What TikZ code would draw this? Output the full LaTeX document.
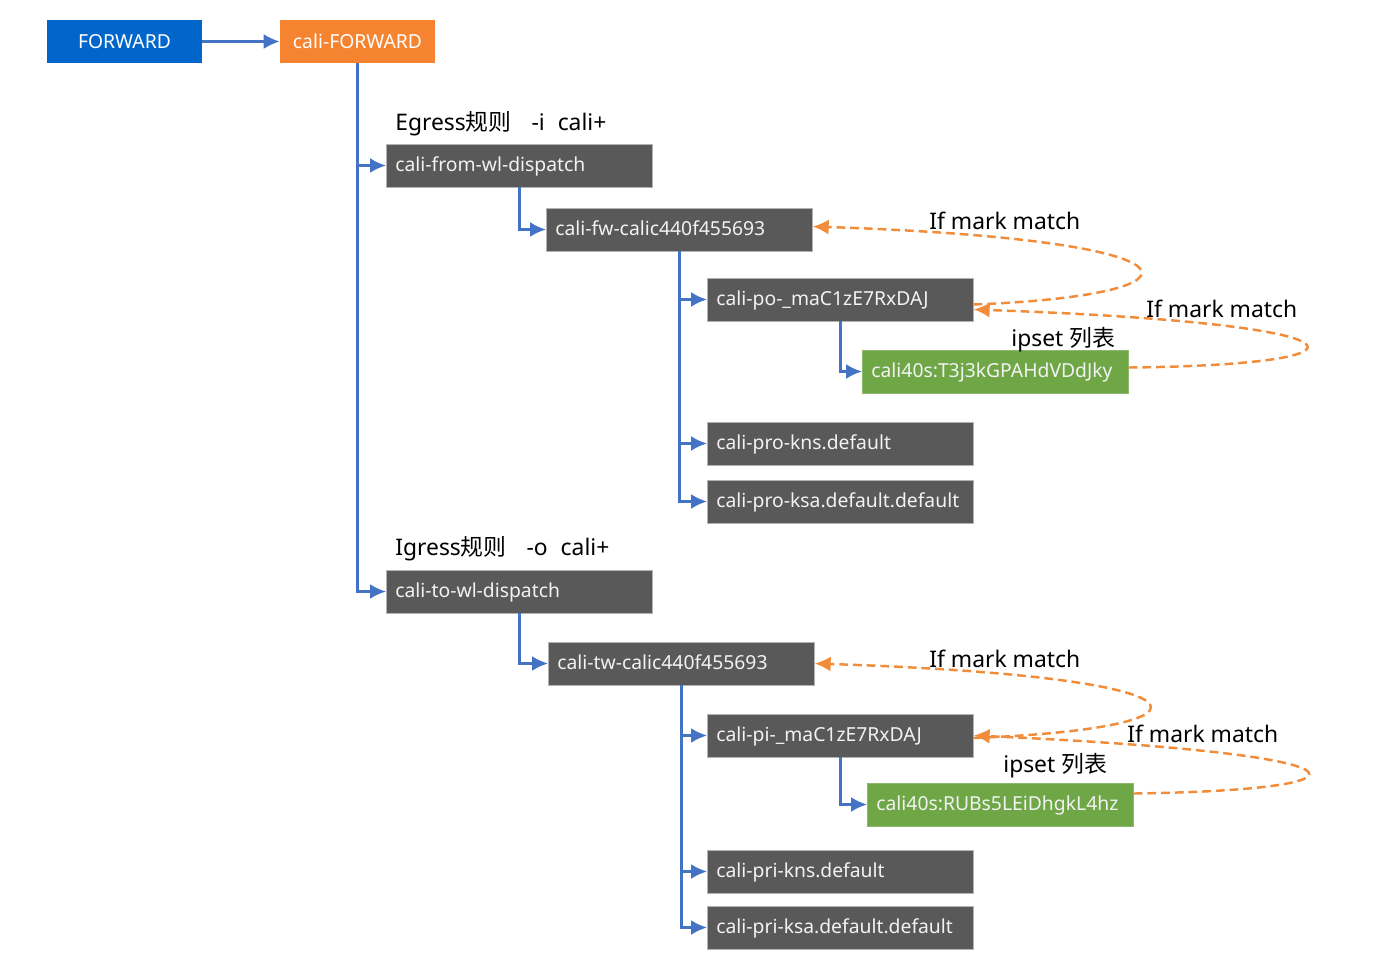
\documentclass[tikz,border=0pt]{standalone}
\usepackage{fontspec}
\setmainfont{Noto Sans}
\newfontfamily\cjk{Noto Sans CJK SC}
\usetikzlibrary{arrows.meta}

\definecolor{fwdblue}{HTML}{0066CC}
\definecolor{caliorange}{HTML}{F5832F}
\definecolor{chaingray}{HTML}{595959}
\definecolor{ipsetgreen}{HTML}{6FA747}
\definecolor{linkblue}{HTML}{4472C4}
\definecolor{markorange}{HTML}{F08C3A}

\begin{document}
\begin{tikzpicture}[x=0.02cm, y=-0.02cm,
		topbox/.style={minimum width=3.1cm, minimum height=0.86cm, inner sep=0pt, text=white, font=\fontsize{11}{13}\selectfont},
		chain/.style={anchor=west, fill=chaingray, draw=gray!60, thin, text width=4.96cm, inner xsep=0.18cm, inner ysep=0pt, minimum height=0.86cm, text height=0.9em, text depth=0.2em, align=left, text=white!95!black, font=\fontsize{11}{13}\selectfont},
		ipset/.style={chain, fill=ipsetgreen, draw=ipsetgreen!80!white},
		link/.style={linkblue, line width=1.4pt, -{Latex[length=0.32cm, width=0.3cm]}},
		markloop/.style={markorange, line width=1.4pt, dash pattern=on 5pt off 2.8pt, -{Latex[length=0.32cm, width=0.3cm]}},
		note/.style={anchor=base west, inner sep=0pt, font=\fontsize{13}{15}\selectfont}]
				\useasboundingbox (0,0) rectangle (1381,970);
				\fill[white] (0,0) rectangle (1381,970);
				% entry
				\node[topbox, fill=fwdblue] (fwd) at (124.5,41.5) {FORWARD};
				\node[topbox, fill=caliorange] (cfwd) at (357.5,41.5) {cali-FORWARD};
				% egress
				\node[note] (egr) at (395,130) {Egress{\cjk 规则}\hspace{0.4cm}-i\hspace{0.26cm}cali+};
				\node[chain] (fromwl) at (386,165.5) {cali-from-wl-dispatch};
				\node[chain] (fwcal) at (546,229.5) {cali-fw-calic440f455693};
				\node[chain] (po) at (707,299.5) {cali-po-\_maC1zE7RxDAJ};
				\node[ipset] (ipo) at (862,371.5) {cali40s:T3j3kGPAHdVDdJky};
				\node[chain] (prokns) at (707,443.5) {cali-pro-kns.default};
				\node[chain] (proksa) at (707,501.5) {cali-pro-ksa.default.default};
				% ingress
				\node[note] (igr) at (395,555) {Igress{\cjk 规则}\hspace{0.4cm}-o\hspace{0.26cm}cali+};
				\node[chain] (towl) at (386,591.5) {cali-to-wl-dispatch};
				\node[chain] (twcal) at (548,663.5) {cali-tw-calic440f455693};
				\node[chain] (pi) at (707,735.5) {cali-pi-\_maC1zE7RxDAJ};
				\node[ipset] (ipi) at (867,804.5) {cali40s:RUBs5LEiDhgkL4hz};
				\node[chain] (prikns) at (707,871.5) {cali-pri-kns.default};
				\node[chain] (priksa) at (707,927.5) {cali-pri-ksa.default.default};
				% blue links
				\draw[link] (fwd) -- (cfwd);
				\draw[link] (cfwd.south) |- (fromwl.west);
				\draw[link] (cfwd.south) |- (towl.west);
				\draw[link] (fromwl.south) |- (fwcal.west);
				\draw[link] (fwcal.south) |- (po.west);
				\draw[link] (fwcal.south) |- (prokns.west);
				\draw[link] (fwcal.south) |- (proksa.west);
				\draw[link] (po.south) |- (ipo.west);
				\draw[link] (towl.south) |- (twcal.west);
				\draw[link] (twcal.south) |- (pi.west);
				\draw[link] (twcal.south) |- (prikns.west);
				\draw[link] (twcal.south) |- (priksa.west);
				\draw[link] (pi.south) |- (ipi.west);
				% mark loops
				\draw[markloop] ([yshift=-0.1cm]po.east) .. controls (1218,295) and (1218,240) .. ([yshift=0.06cm]fwcal.east);
				\draw[markloop] ([yshift=0.08cm]ipo.east) .. controls (1387,365) and (1387,324) .. ([yshift=-0.2cm]po.east);
				\draw[markloop] ([yshift=-0.05cm]pi.east) .. controls (1230,728) and (1230,677) .. (twcal.east);
				\draw[markloop] ([yshift=0.22cm]ipi.east) .. controls (1388,790) and (1388,754) .. (pi.east);
				\node[note] (m1) at (929,229) {If mark match};
				\node[note] (m2) at (1146,317) {If mark match};
				\node[note] (s1) at (1011,346) {ipset {\cjk 列表}};
				\node[note] (m3) at (929,667) {If mark match};
				\node[note] (m4) at (1127,742) {If mark match};
				\node[note] (s2) at (1003,772) {ipset {\cjk 列表}};
		\end{tikzpicture}
\end{document}
